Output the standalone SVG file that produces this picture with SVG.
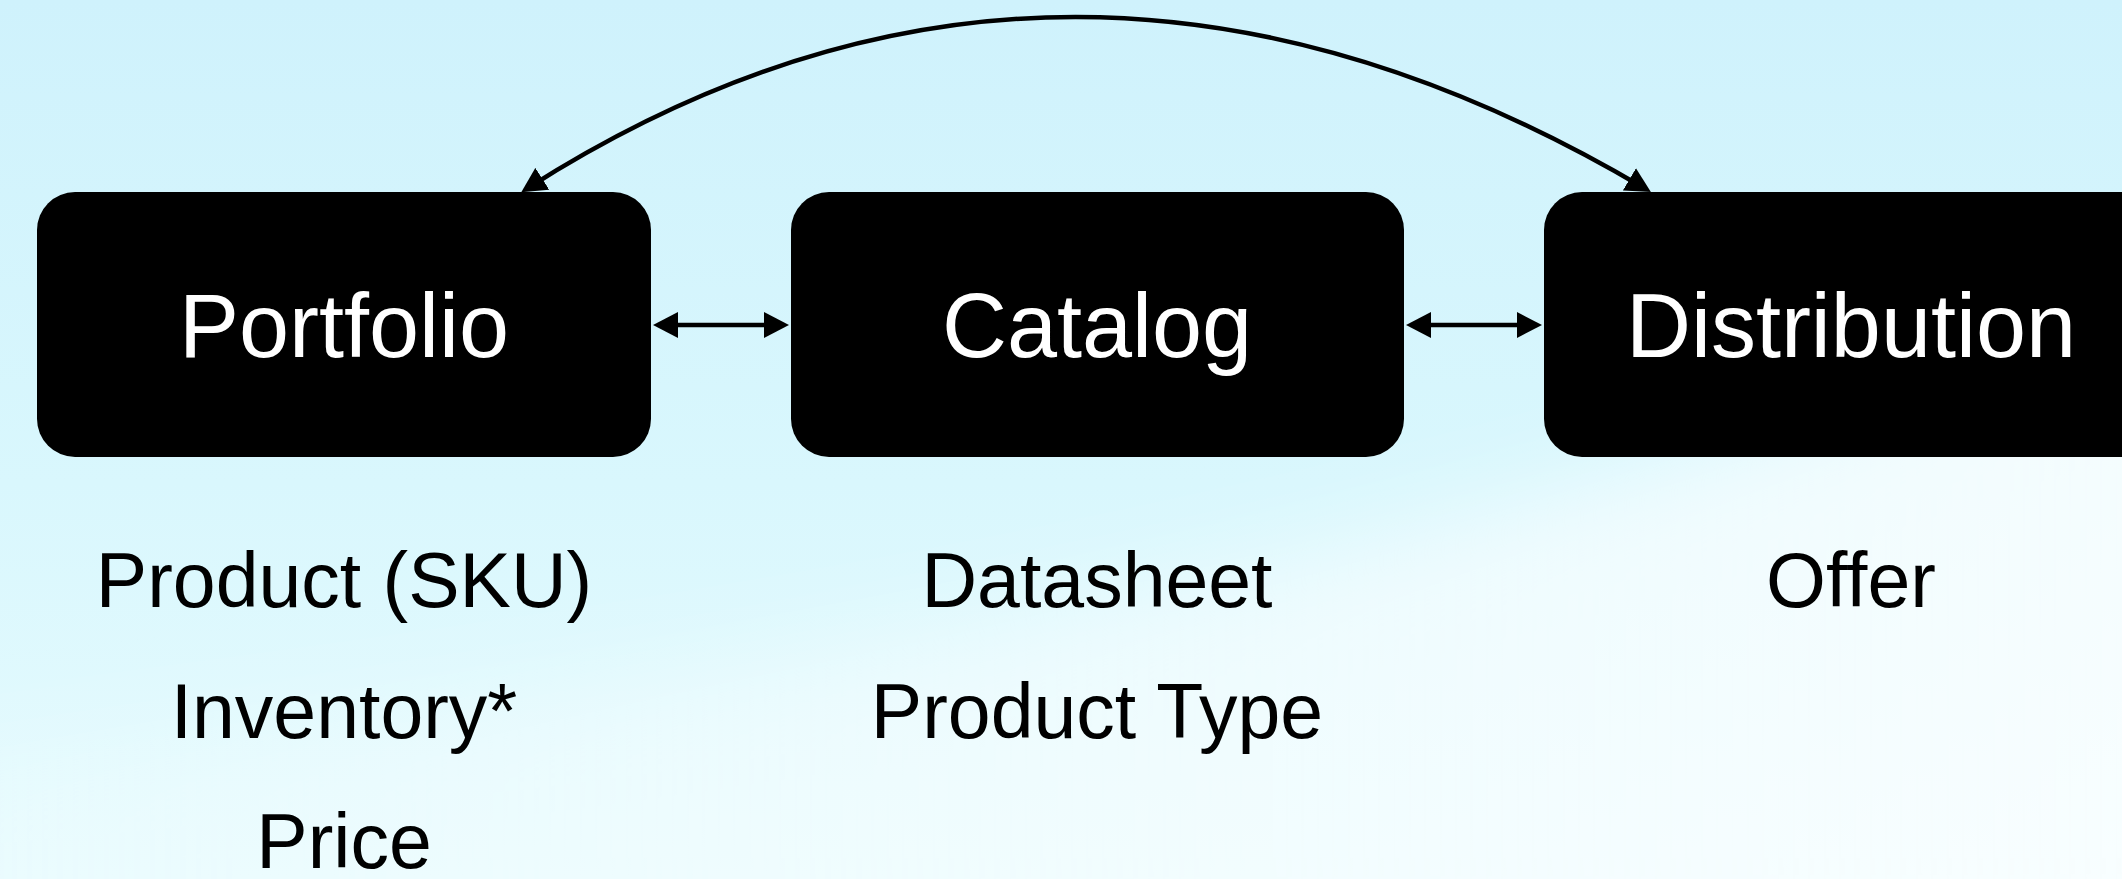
<svg xmlns="http://www.w3.org/2000/svg" width="2122" height="879" viewBox="0 0 2122 879">
  <defs>
    <linearGradient id="bg" x1="0" y1="0" x2="0" y2="1">
      <stop offset="0" stop-color="#cff2fc"/>
      <stop offset="0.55" stop-color="#d9f7fd"/>
      <stop offset="1" stop-color="#e6fbfe"/>
    </linearGradient>
    <linearGradient id="wave" x1="0" y1="0" x2="1" y2="0">
      <stop offset="0" stop-color="#ffffff" stop-opacity="0.15"/>
      <stop offset="0.5" stop-color="#ffffff" stop-opacity="0.45"/>
      <stop offset="1" stop-color="#ffffff" stop-opacity="0.75"/>
    </linearGradient>
    <filter id="soft" x="-10%" y="-20%" width="120%" height="140%">
      <feGaussianBlur stdDeviation="45"/>
    </filter>
    <marker id="ah" viewBox="0 0 25 26" markerUnits="userSpaceOnUse" markerWidth="25" markerHeight="26" refX="17" refY="13" orient="auto-start-reverse">
      <path d="M0,0 L25,13 L0,26 Z" fill="#000"/>
    </marker>
  </defs>
  <style>
    .box { fill: #000; }
    .title { font-family: "Liberation Sans", Arial, Helvetica, sans-serif; font-size: 90px; fill: #fff; text-anchor: middle; }
    .item { font-family: "Liberation Sans", Arial, Helvetica, sans-serif; font-size: 77px; fill: #000; text-anchor: middle; }
    .conn { fill: none; stroke: #000; stroke-width: 4.5; marker-start: url(#ah); marker-end: url(#ah); }
  </style>

  <rect x="0" y="0" width="2122" height="879" fill="url(#bg)"/>
  <path d="M-100,760 C600,690 1400,600 2250,260 L2250,980 L-100,980 Z" fill="url(#wave)" filter="url(#soft)"/>

  <g id="connectors">
    <path class="conn" d="M528,188 Q1065,-154 1644,188"/>
    <path class="conn" d="M661,325 L781,325"/>
    <path class="conn" d="M1414,325 L1534,325"/>
  </g>

  <g id="portfolio">
    <rect class="box" x="37" y="192" width="614" height="265" rx="38" ry="38"/>
    <text class="title" x="344" y="357">Portfolio</text>
  </g>
  <g id="catalog">
    <rect class="box" x="791" y="192" width="613" height="265" rx="38" ry="38"/>
    <text class="title" x="1097" y="357">Catalog</text>
  </g>
  <g id="distribution">
    <rect class="box" x="1544" y="192" width="614" height="265" rx="38" ry="38"/>
    <text class="title" x="1851" y="357">Distribution</text>
  </g>

  <g id="portfolio-items">
    <text class="item" x="344" y="607">Product (SKU)</text>
    <text class="item" x="344" y="738">Inventory*</text>
    <text class="item" x="344" y="868">Price</text>
  </g>
  <g id="catalog-items">
    <text class="item" x="1097" y="607">Datasheet</text>
    <text class="item" x="1097" y="738">Product Type</text>
  </g>
  <g id="distribution-items">
    <text class="item" x="1851" y="607">Offer</text>
  </g>
</svg>
